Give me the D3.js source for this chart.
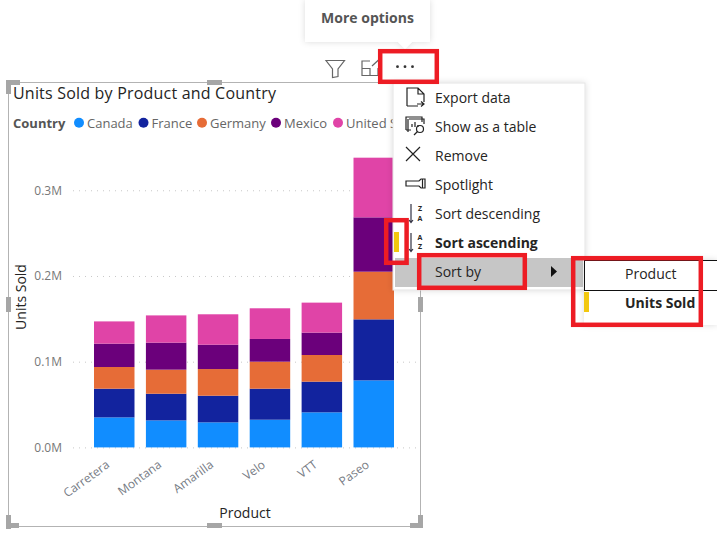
<!DOCTYPE html>
<html>
<head>
<meta charset="utf-8">
<script src="https://cdn.jsdelivr.net/npm/d3@7"></script>
<style>
  body { margin: 0; background: #fff; }
  svg { display: block; font-family: "Open Sans", "Noto Sans", sans-serif; }
</style>
</head>
<body>
<svg id="chart" width="717" height="537"></svg>
<script>
const products = ['Carretera', 'Montana', 'Amarilla', 'Velo', 'VTT', 'Paseo'];
const countries = ['Canada', 'France', 'Germany', 'Mexico', 'United States'];
const yTicks = [0, 0.1, 0.2, 0.3];

// units sold in millions, same order as products
const canada = [0.0350, 0.0315, 0.0292, 0.0323, 0.0409, 0.0782];
const france = [0.0335, 0.0311, 0.0311, 0.0362, 0.0358, 0.0712];
const germany = [0.0253, 0.0281, 0.0311, 0.0315, 0.0311, 0.0556];
const mexico = [0.0272, 0.0315, 0.0284, 0.0265, 0.0261, 0.0634];
const unitedStates = [0.0260, 0.0318, 0.0355, 0.0358, 0.0350, 0.0696];

const colors = ['#118dff', '#12239e', '#e66c37', '#6b007b', '#e044a7'];
const legendX = [79, 143.5, 202, 276, 338];
const menuItems = ['Export data', 'Show as a table', 'Remove', 'Spotlight', 'Sort descending', 'Sort ascending', 'Sort by'];

const svg = d3.select('#chart');

const defs = svg.append('defs');
const shadow = defs.append('filter').attr('id', 'shadow')
    .attr('x', '-10%').attr('y', '-10%').attr('width', '120%').attr('height', '120%');
shadow.append('feDropShadow')
    .attr('dx', 0).attr('dy', 0).attr('stdDeviation', 3)
    .attr('flood-color', '#000').attr('flood-opacity', 0.14);

const table = products.map((p, i) => ({
    product: p,
    Canada: canada[i],
    France: france[i],
    Germany: germany[i],
    Mexico: mexico[i],
    'United States': unitedStates[i]
}));
const stacked = d3.stack().keys(countries)(table);

const x = d3.scaleBand()
    .domain(products)
    .range([88.3, 399.7])
    .paddingInner(0.22)
    .paddingOuter(0.11);
const y = d3.scaleLinear()
    .domain([0, 0.35])
    .range([447.4, 147.4]);

// visual frame
svg.append('rect')
    .attr('x', 8.5).attr('y', 82.5).attr('width', 412).attr('height', 444)
    .attr('fill', '#fff').attr('stroke', '#b3b3b3').attr('stroke-width', 1);

// y axis + grid
const yAxis = svg.append('g')
    .attr('transform', 'translate(62,0)')
    .call(d3.axisLeft(y).tickValues(yTicks).tickSize(0).tickPadding(0).tickFormat(d => d.toFixed(1) + 'M'));
yAxis.select('.domain').remove();
yAxis.selectAll('text').attr('font-size', 12).attr('font-family', '"Open Sans"').attr('fill', '#777');

svg.append('g').selectAll('line')
    .data(yTicks)
    .join('line')
    .attr('x1', 73).attr('x2', 417)
    .attr('y1', d => y(d) + 0.5).attr('y2', d => y(d) + 0.5)
    .attr('stroke', '#c8c8c8').attr('stroke-dasharray', '1 5');

// bars
svg.append('g').selectAll('g')
    .data(stacked)
    .join('g')
    .attr('fill', (d, i) => colors[i])
    .selectAll('rect')
    .data(d => d)
    .join('rect')
    .attr('x', d => x(d.data.product))
    .attr('width', x.bandwidth())
    .attr('y', d => y(d[1]))
    .attr('height', d => y(d[0]) - y(d[1]));

// x axis
const xAxis = svg.append('g')
    .attr('transform', 'translate(0,447.4)')
    .call(d3.axisBottom(x).tickSize(0).tickPadding(0));
xAxis.select('.domain').remove();
xAxis.selectAll('text')
    .attr('font-size', 12).attr('font-family', '"Open Sans"').attr('fill', '#767b84')
    .attr('text-anchor', 'end')
    .attr('dy', 0)
    .attr('transform', d => `translate(${x.bandwidth() / 2 - 24},19) rotate(-36)`);

// titles
svg.append('text').attr('x', 13).attr('y', 99)
    .attr('font-size', 16).attr('fill', '#252423').attr('letter-spacing', 0.2)
    .text('Units Sold by Product and Country');
svg.append('text').attr('x', 245).attr('y', 518).attr('text-anchor', 'middle')
    .attr('font-size', 14).attr('fill', '#252423').text('Product');
svg.append('text').attr('transform', 'translate(26,297) rotate(-90)').attr('text-anchor', 'middle')
    .attr('font-size', 14).attr('fill', '#252423').text('Units Sold');

// legend
svg.append('text').attr('x', 13).attr('y', 128)
    .attr('font-size', 13).attr('font-weight', 700).attr('fill', '#555').text('Country');
const legend = svg.append('g').selectAll('g')
    .data(countries)
    .join('g')
    .attr('transform', (d, i) => `translate(${legendX[i]},122.7)`);
legend.append('circle').attr('r', 5).attr('fill', (d, i) => colors[i]);
legend.append('text').attr('x', 8).attr('y', 5)
    .attr('font-size', 13).attr('fill', '#666').text(d => d);

// selection handles on the visual
const handles = svg.append('g').attr('fill', '#a6a6a6');
[[6, 80, 14, 5], [6, 80, 5, 14], [207, 80, 15, 5], [6, 297, 5, 15], [418, 297, 5, 15],
 [207, 523, 15, 5], [6, 515, 5, 14], [6, 523, 13, 5], [410, 523, 13, 5], [418, 515, 5, 13]]
    .forEach(h => handles.append('rect').attr('x', h[0]).attr('y', h[1]).attr('width', h[2]).attr('height', h[3]));

// toolbar above the visual
const bar = svg.append('g').attr('fill', 'none').attr('stroke', '#666').attr('stroke-width', 1.2);
bar.append('path').attr('d', 'M326,60.5H344.5L338,69V76.5L332.5,77.5V69Z');
bar.append('path').attr('d', 'M370,61H362V75.5H378V68M362,68.5H370V75.5M372,66L378.5,60');
svg.append('g').selectAll('circle').data([0, 1, 2]).join('circle')
    .attr('cx', d => 397.5 + d * 7.5).attr('cy', 66.7).attr('r', 1.4).attr('fill', '#333');

// tooltip
svg.append('path')
    .attr('d', 'M305,0H430V42H412L405,49L398,42H305Z')
    .attr('fill', '#fff').attr('filter', 'url(#shadow)');
svg.append('text').attr('x', 367.5).attr('y', 23).attr('text-anchor', 'middle')
    .attr('font-size', 14).attr('font-weight', 700).attr('fill', '#555').text('More options');

// context menu
svg.append('rect').attr('x', 393).attr('y', 83).attr('width', 192).attr('height', 207)
    .attr('fill', '#fff').attr('stroke', '#e4e4e4').attr('filter', 'url(#shadow)');
svg.append('rect').attr('x', 395).attr('y', 258).attr('width', 188).attr('height', 29).attr('fill', '#c6c6c6');
svg.append('g').selectAll('text')
    .data(menuItems)
    .join('text')
    .attr('x', 435)
    .attr('y', (d, i) => 103 + i * 29)
    .attr('font-size', 14)
    .attr('font-weight', d => d === 'Sort ascending' ? 700 : 400)
    .attr('fill', '#252423')
    .text(d => d);
svg.append('path').attr('d', 'M551,266L557,271.5L551,277Z').attr('fill', '#111');

// menu icons
const icons = svg.append('g').attr('fill', 'none').attr('stroke', '#222').attr('stroke-width', 1.2);
icons.append('path').attr('d', 'M407,106V88H418L424,94V102M418,88V94H424M407,106H418M417,104H424M421,101.5L424,104L421,106.5');
icons.append('path').attr('d', 'M406,130V117H422V122M408,132V119M406,130H411M409,119H424V124M412,127V124M415,127V122M418,127V125');
icons.append('circle').attr('cx', 420).attr('cy', 129).attr('r', 3.5);
icons.append('path').attr('d', 'M417.5,131.5L414,135');
icons.append('path').attr('d', 'M406,147L420,161M420,147L406,161');
icons.append('path').attr('d', 'M406,181H419L421,179H425V188H421L419,186H406ZM422.5,179V188');
icons.append('path').attr('d', 'M411,204V222M409,220L411,222.5L413,220M411,233V251M409,249L411,251.5L413,249').attr('stroke', '#334');
[['Z', 211], ['A', 220.5], ['A', 239.5], ['Z', 249]].forEach(t => svg.append('text')
    .attr('x', 420).attr('y', t[1]).attr('text-anchor', 'middle')
    .attr('font-size', 7).attr('font-weight', 700).attr('fill', '#252423').text(t[0]));

// submenu
svg.append('rect').attr('x', 584).attr('y', 260).attr('width', 133).attr('height', 65)
    .attr('fill', '#fff').attr('filter', 'url(#shadow)');
svg.append('rect').attr('x', 584.5).attr('y', 260.5).attr('width', 140).attr('height', 30)
    .attr('fill', '#fff').attr('stroke', '#111');
svg.append('text').attr('x', 625).attr('y', 279).attr('font-size', 14).attr('fill', '#252423').text('Product');
svg.append('text').attr('x', 625).attr('y', 308).attr('font-size', 14).attr('font-weight', 700)
    .attr('fill', '#252423').text('Units Sold');

// sort markers
svg.append('g').attr('fill', '#f2c80f').selectAll('rect')
    .data([[394, 232], [584, 292]])
    .join('rect')
    .attr('x', d => d[0]).attr('y', d => d[1]).attr('width', 5).attr('height', 20);

// red annotation boxes
svg.append('g').attr('fill', 'none').attr('stroke', '#ed1c24').attr('stroke-width', 4.5)
    .selectAll('rect')
    .data([[380.2, 51.2, 56.6, 30.6], [386.2, 220.2, 20.4, 42.6], [419.2, 255.2, 105.6, 32.6], [573.2, 258.2, 127.6, 66.6]])
    .join('rect')
    .attr('x', d => d[0]).attr('y', d => d[1]).attr('width', d => d[2]).attr('height', d => d[3]);
</script>
</body>
</html>
